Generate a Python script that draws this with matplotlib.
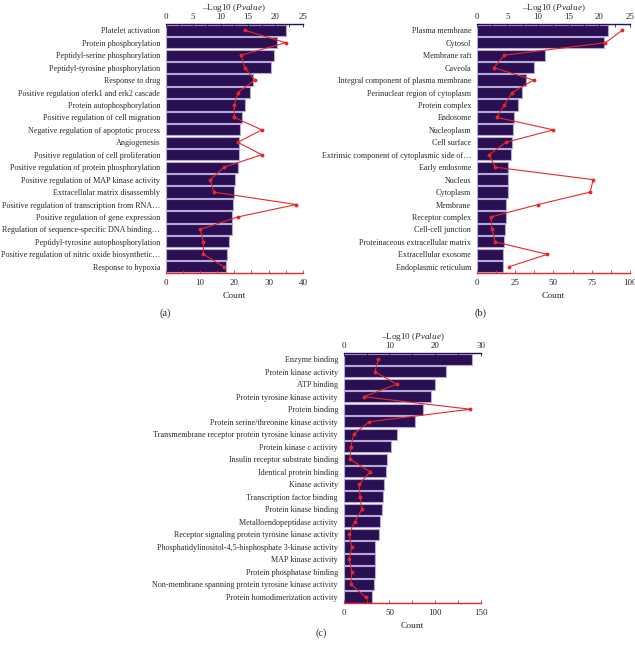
import numpy as np
import matplotlib.pyplot as plt

plt.rcParams['font.family'] = ['Liberation Serif', 'DejaVu Serif']
plt.rcParams['mathtext.fontset'] = 'custom'
plt.rcParams['mathtext.rm'] = 'Liberation Serif'
plt.rcParams['mathtext.it'] = 'Liberation Serif:italic'

BAR_COLOR = '#2a1052'
EDGE_COLOR = '#b7a9d6'
LINE_COLOR = '#e8272b'
TEXT_COLOR = '#2a2a2a'

# (a) biological process
terms_a = [
    "Platelet activation",
    "Protein phosphorylation",
    "Peptidyl-serine phosphorylation",
    "Peptidyl-tyrosine phosphorylation",
    "Response to drug",
    "Positive regulation oferk1 and erk2 cascade",
    "Protein autophosphorylation",
    "Positive regulation of cell migration",
    "Negative regulation of apoptotic process",
    "Angiogenesis",
    "Positive regulation of cell proliferation",
    "Positive regulation of protein phosphorylation",
    "Positive regulation of MAP kinase activity",
    "Extracellular matrix disassembly",
    "Positive regulation of transcription from RNA\u2026",
    "Positive regulation of gene expression",
    "Regulation of sequence-specific DNA binding\u2026",
    "Peptidyl-tyrosine autophosphorylation",
    "Positive regulation of nitric oxide biosynthetic\u2026",
    "Response to hypoxia",
]
logp_a = [22.0, 20.2, 19.7, 19.1, 15.9, 15.4, 14.4, 13.9, 13.5, 13.3,
          13.3, 13.1, 12.6, 12.5, 12.3, 12.0, 12.0, 11.5, 11.2, 11.0]
count_a = [23, 35, 22, 23, 26, 21, 20, 20, 28, 21,
           28, 17, 13, 14, 38, 21, 10, 11, 11, 17]

# (b) cellular component
terms_b = [
    "Plasma membrane",
    "Cytosol",
    "Membrane raft",
    "Caveola",
    "Integral component of plasma membrane",
    "Perinuclear region of cytoplasm",
    "Protein complex",
    "Endosome",
    "Nucleoplasm",
    "Cell surface",
    "Extrinsic component of cytoplasmic side of\u2026",
    "Early endosome",
    "Nucleus",
    "Cytoplasm",
    "Membrane",
    "Receptor complex",
    "Cell-cell junction",
    "Proteinaceous extracellular matrix",
    "Extracellular exosome",
    "Endoplasmic reticulum",
]
logp_b = [21.4, 20.7, 11.2, 9.4, 8.1, 7.4, 6.7, 6.0, 5.9, 5.7,
          5.6, 5.1, 5.1, 5.1, 4.7, 4.7, 4.6, 4.4, 4.3, 4.3]
count_b = [95, 84, 18, 11, 37, 23, 18, 13, 50, 19,
           8, 12, 76, 74, 40, 9, 10, 12, 46, 21]

# (c) molecular function
terms_c = [
    "Enzyme binding",
    "Protein kinase activity",
    "ATP binding",
    "Protein tyrosine kinase activity",
    "Protein binding",
    "Protein serine/threonine kinase activity",
    "Transmembrane receptor protein tyrosine kinase activity",
    "Protein kinase c activity",
    "Insulin receptor substrate binding",
    "Identical protein binding",
    "Kinase activity",
    "Transcription factor binding",
    "Protein kinase binding",
    "Metalloendopeptidase activity",
    "Receptor signaling protein tyrosine kinase activity",
    "Phosphatidylinositol-4,5-bisphosphate 3-kinase activity",
    "MAP kinase activity",
    "Protein phosphatase binding",
    "Non-membrane spanning protein tyrosine kinase activity",
    "Protein homodimerization activity",
]
logp_c = [28.0, 22.3, 19.9, 19.1, 17.2, 15.5, 11.7, 10.4, 9.5, 9.2,
          8.8, 8.6, 8.4, 7.9, 7.7, 6.9, 6.8, 6.8, 6.6, 6.2]
count_c = [38, 34, 58, 22, 138, 28, 11, 8, 7, 29,
           17, 18, 20, 12, 6, 9, 6, 9, 8, 24]


def go_panel(rect, terms, logp, counts, top_max, top_step, bot_max, bot_step):
    ax = fig.add_axes(rect)
    ax2 = ax.twiny()
    y = np.arange(len(terms))

    # bars: -log10(p) on the top axis
    ax.barh(y, logp, height=0.9, color=BAR_COLOR, edgecolor=EDGE_COLOR, linewidth=0.8)
    ax.set_ylim(len(terms) - 0.5, -0.5)
    ax.set_xlim(0, top_max)
    ax.set_yticks(y)
    ax.set_yticklabels(terms, fontsize=5.9, color=TEXT_COLOR)
    ax.tick_params(axis='y', length=0, pad=4)
    ax.xaxis.tick_top()
    ax.xaxis.set_label_position('top')
    ax.set_xticks(np.arange(0, top_max + 0.1, top_step))
    ax.set_xticks(np.arange(0, top_max + 0.1, top_step / 2), minor=True)
    ax.tick_params(axis='x', which='both', direction='in', length=2, width=0.6,
                   color=BAR_COLOR, labelsize=6.5, labelcolor=TEXT_COLOR, pad=2)
    ax.set_xlabel('\u2013Log10 ($\\it{Pvalue}$)', fontsize=6.6, color=TEXT_COLOR, labelpad=2)
    for s in ['left', 'right', 'bottom']:
        ax.spines[s].set_visible(False)
    ax.spines['top'].set_color(BAR_COLOR)
    ax.spines['top'].set_linewidth(1.0)

    # line: gene count on the bottom axis
    ax2.plot(counts, y, color=LINE_COLOR, linewidth=0.8, marker='o', markersize=1.8)
    ax2.set_xlim(0, bot_max)
    ax2.set_ylim(len(terms) - 0.5, -0.5)
    ax2.xaxis.tick_bottom()
    ax2.xaxis.set_label_position('bottom')
    ax2.set_xticks(np.arange(0, bot_max + 0.1, bot_step))
    ax2.set_xticks(np.arange(0, bot_max + 0.1, bot_step / 2), minor=True)
    ax2.tick_params(axis='x', which='both', direction='in', length=2, width=0.6,
                    color=LINE_COLOR, labelsize=6.5, labelcolor=TEXT_COLOR, pad=4)
    ax2.set_xlabel('Count', fontsize=6.8, color=TEXT_COLOR, labelpad=4)
    for s in ['left', 'right', 'top']:
        ax2.spines[s].set_visible(False)
    ax2.spines['bottom'].set_color(LINE_COLOR)
    ax2.spines['bottom'].set_linewidth(1.0)
    return ax


fig = plt.figure(figsize=(6.35, 6.5), dpi=100)

go_panel([0.261, 0.580, 0.216, 0.383], terms_a, logp_a, count_a, 25, 5, 40, 10)
go_panel([0.751, 0.580, 0.241, 0.383], terms_b, logp_b, count_b, 25, 5, 100, 25)
go_panel([0.541, 0.072, 0.217, 0.385], terms_c, logp_c, count_c, 30, 10, 150, 50)

fig.text(0.260, 0.518, '(a)', fontsize=7.5, color=TEXT_COLOR, ha='center', va='center')
fig.text(0.757, 0.518, '(b)', fontsize=7.5, color=TEXT_COLOR, ha='center', va='center')
fig.text(0.506, 0.026, '(c)', fontsize=7.5, color=TEXT_COLOR, ha='center', va='center')

fig.savefig('out.png', dpi=100)
